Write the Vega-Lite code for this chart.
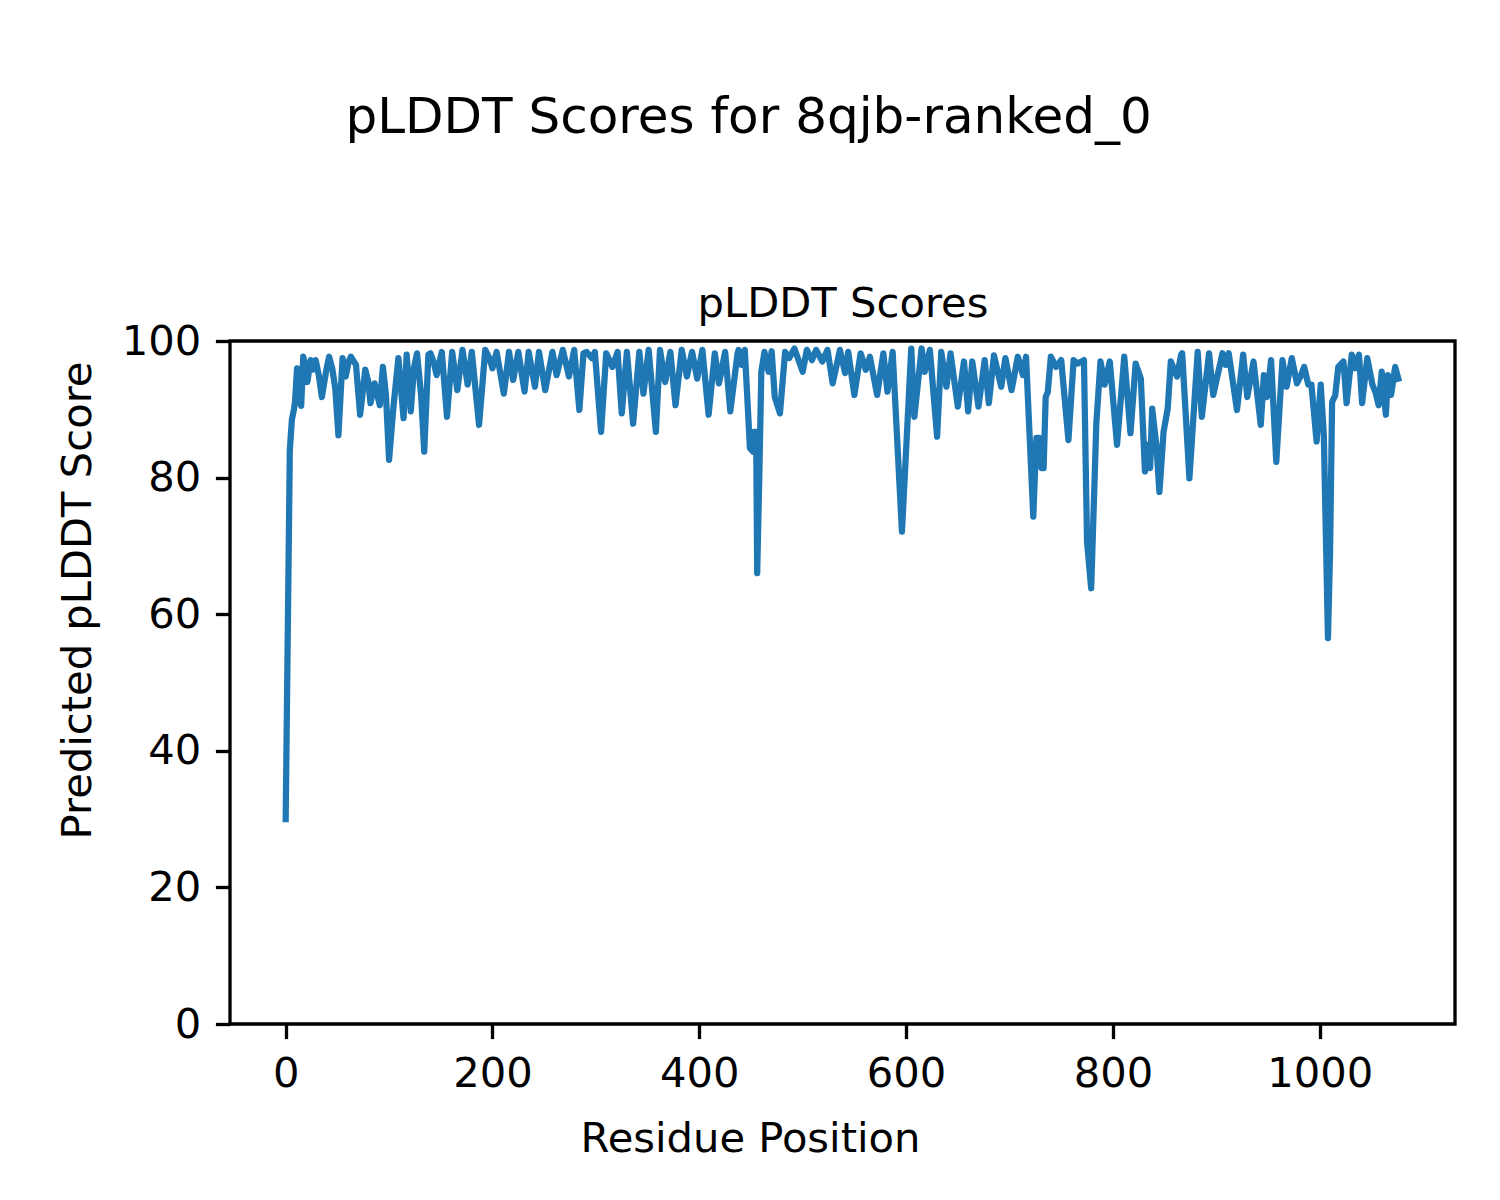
{
  "$schema": "https://vega.github.io/schema/vega-lite/v6.json",
  "autosize": {"type": "none"},
  "padding": {"left": 230, "top": 341, "right": 45, "bottom": 176},
  "background": "white",
  "width": 1225,
  "height": 683,
  "title": {"text": "pLDDT Scores for 8qjb-ranked_0", "anchor": "start", "frame": "group", "align": "left", "dx": 115.5, "fontSize": 50, "font": "DejaVu Sans", "fontWeight": "normal", "color": "black", "baseline": "alphabetic", "offset": 100},
  "config": {
    "font": "DejaVu Sans",
    "view": {"stroke": "black", "strokeWidth": 3.33},
    "axis": {"grid": false, "domain": false, "tickColor": "black", "tickWidth": 3.33, "tickSize": 14.6, "labelPadding": 14.6, "labelFontSize": 41.67, "labelColor": "black", "labelFont": "DejaVu Sans", "titleFontSize": 41.67, "titleFontWeight": "normal", "titleColor": "black", "titleFont": "DejaVu Sans"}
  },
  "data": {"values": [
    {"r":0,"v":30},{"r":4,"v":84},{"r":6,"v":88.5},{"r":8,"v":90},{"r":9,"v":91},{"r":11,"v":96},{"r":13,"v":92},{"r":15,"v":90.5},{"r":17,"v":97.7},{"r":19,"v":96},{"r":21,"v":94},{"r":24,"v":97.2},{"r":26,"v":95.8},{"r":29,"v":97.2},{"r":32,"v":95},{"r":35,"v":91.8},{"r":39,"v":95.5},{"r":42,"v":97.7},{"r":45,"v":96},{"r":48,"v":93},{"r":51,"v":86.2},{"r":55,"v":97.5},{"r":58,"v":94.8},{"r":61,"v":97},{"r":63,"v":97.7},{"r":68,"v":96.5},{"r":72,"v":89.2},{"r":77,"v":95.8},{"r":80,"v":94},{"r":82,"v":90.9},{"r":86,"v":93.8},{"r":91,"v":90.6},{"r":94,"v":96.2},{"r":97,"v":92},{"r":100,"v":82.6},{"r":104,"v":90},{"r":109,"v":97.5},{"r":114,"v":88.7},{"r":117,"v":98},{"r":121,"v":89.7},{"r":124,"v":96},{"r":127,"v":98.2},{"r":131,"v":92},{"r":134,"v":83.8},{"r":138,"v":98},{"r":140,"v":98.2},{"r":143,"v":97},{"r":146,"v":95},{"r":151,"v":98.4},{"r":156,"v":88.9},{"r":161,"v":98.4},{"r":166,"v":92.8},{"r":171,"v":98.7},{"r":176,"v":93.6},{"r":180,"v":98.4},{"r":187,"v":87.7},{"r":193,"v":98.7},{"r":197,"v":97.5},{"r":200,"v":96},{"r":204,"v":98.4},{"r":211,"v":92.3},{"r":216,"v":98.4},{"r":220,"v":94.3},{"r":225,"v":98.4},{"r":231,"v":92.6},{"r":235,"v":98.4},{"r":241,"v":93.3},{"r":245,"v":98.4},{"r":251,"v":92.8},{"r":258,"v":98.4},{"r":262,"v":95},{"r":268,"v":98.7},{"r":274,"v":94.8},{"r":279,"v":98.7},{"r":284,"v":89.9},{"r":288,"v":98.2},{"r":291,"v":98.4},{"r":296,"v":97.5},{"r":299,"v":98.4},{"r":305,"v":86.7},{"r":310,"v":98.2},{"r":316,"v":96.2},{"r":321,"v":98.4},{"r":325,"v":89.4},{"r":330,"v":98.4},{"r":336,"v":87.9},{"r":342,"v":98.4},{"r":346,"v":92.3},{"r":351,"v":98.7},{"r":358,"v":86.7},{"r":362,"v":98.7},{"r":367,"v":94},{"r":372,"v":98.4},{"r":377,"v":90.6},{"r":383,"v":98.7},{"r":388,"v":94.8},{"r":393,"v":98.4},{"r":398,"v":94.5},{"r":403,"v":98.7},{"r":409,"v":89.2},{"r":415,"v":98.2},{"r":419,"v":93.8},{"r":425,"v":98.4},{"r":430,"v":89.7},{"r":437,"v":98.2},{"r":438,"v":98.7},{"r":441,"v":96.5},{"r":444,"v":98.7},{"r":449,"v":84.3},{"r":452,"v":83.8},{"r":453,"v":86.7},{"r":455,"v":86.7},{"r":456,"v":66},{"r":458,"v":80},{"r":460,"v":95.5},{"r":463,"v":98.4},{"r":467,"v":95.5},{"r":470,"v":98.5},{"r":473,"v":91.8},{"r":478,"v":89.4},{"r":483,"v":98.4},{"r":487,"v":97.5},{"r":492,"v":98.9},{"r":500,"v":95.5},{"r":504,"v":98.7},{"r":509,"v":97.2},{"r":513,"v":98.7},{"r":519,"v":97},{"r":524,"v":98.7},{"r":529,"v":93.8},{"r":536,"v":98.7},{"r":541,"v":95.3},{"r":544,"v":98.4},{"r":550,"v":92.1},{"r":556,"v":98.2},{"r":561,"v":95.8},{"r":565,"v":97.7},{"r":572,"v":92.1},{"r":578,"v":98.2},{"r":582,"v":92.6},{"r":587,"v":98.4},{"r":596,"v":72.1},{"r":605,"v":98.9},{"r":608,"v":88.9},{"r":615,"v":98.9},{"r":618,"v":95.5},{"r":623,"v":98.7},{"r":630,"v":86},{"r":634,"v":98.4},{"r":639,"v":93.3},{"r":643,"v":98.2},{"r":650,"v":90.4},{"r":656,"v":97},{"r":660,"v":89.7},{"r":664,"v":97},{"r":670,"v":90.4},{"r":676,"v":97.2},{"r":680,"v":90.9},{"r":685,"v":97.9},{"r":692,"v":93.3},{"r":696,"v":97.5},{"r":702,"v":92.8},{"r":708,"v":97.7},{"r":713,"v":95},{"r":716,"v":97.7},{"r":723,"v":74.3},{"r":726,"v":85.8},{"r":729,"v":85.8},{"r":731,"v":81.4},{"r":733,"v":81.4},{"r":735,"v":91.8},{"r":737,"v":92.5},{"r":740,"v":97.7},{"r":745,"v":96.2},{"r":750,"v":97.2},{"r":757,"v":85.5},{"r":762,"v":97.2},{"r":766,"v":96.7},{"r":772,"v":97.2},{"r":775,"v":70.6},{"r":779,"v":63.8},{"r":784,"v":88},{"r":788,"v":97},{"r":792,"v":93.6},{"r":797,"v":97},{"r":804,"v":84.8},{"r":811,"v":97.7},{"r":817,"v":86.5},{"r":822,"v":96.7},{"r":827,"v":94.5},{"r":831,"v":80.9},{"r":833,"v":84.8},{"r":836,"v":81.4},{"r":838,"v":90.1},{"r":842,"v":84.8},{"r":845,"v":77.9},{"r":849,"v":86.7},{"r":853,"v":90.1},{"r":856,"v":97},{"r":862,"v":94.8},{"r":866,"v":98},{"r":867,"v":98.2},{"r":874,"v":79.9},{"r":882,"v":98.4},{"r":886,"v":88.9},{"r":893,"v":98.2},{"r":897,"v":92.1},{"r":906,"v":98.2},{"r":909,"v":96.5},{"r":912,"v":98.2},{"r":920,"v":89.9},{"r":926,"v":98},{"r":930,"v":91.8},{"r":936,"v":97},{"r":943,"v":87.7},{"r":946,"v":95},{"r":949,"v":91.8},{"r":953,"v":97.2},{"r":958,"v":82.3},{"r":964,"v":97.2},{"r":968,"v":93.3},{"r":973,"v":97.5},{"r":978,"v":93.8},{"r":982,"v":95},{"r":985,"v":96.2},{"r":989,"v":93.6},{"r":992,"v":93.6},{"r":997,"v":85.3},{"r":1001,"v":93.6},{"r":1004,"v":86.2},{"r":1008,"v":56.5},{"r":1010,"v":69},{"r":1012,"v":91.1},{"r":1015,"v":92},{"r":1018,"v":96.2},{"r":1023,"v":97},{"r":1026,"v":90.9},{"r":1031,"v":98},{"r":1034,"v":96},{"r":1038,"v":98},{"r":1041,"v":90.9},{"r":1046,"v":97.5},{"r":1051,"v":93.6},{"r":1054,"v":92.5},{"r":1057,"v":90.6},{"r":1060,"v":95.5},{"r":1064,"v":89.2},{"r":1066,"v":95},{"r":1069,"v":92.1},{"r":1073,"v":96.2},{"r":1076,"v":94.5}
  ]},
  "resolve": {"axis": {"x": "independent"}},
  "layer": [
    {
      "mark": {"type": "line", "color": "#1f77b4", "strokeWidth": 6.25, "strokeJoin": "round", "strokeCap": "square"},
      "encoding": {
        "x": {"field": "r", "type": "quantitative", "scale": {"domain": [-53.85, 1130.85], "nice": false, "zero": false},
              "axis": {"orient": "bottom", "title": "Residue Position", "format": "d", "values": [0, 200, 400, 600, 800, 1000], "titleX": 520, "titleY": 127.7, "titleBaseline": "alphabetic", "titleAlign": "center"}},
        "y": {"field": "v", "type": "quantitative", "scale": {"domain": [0, 100], "nice": false},
              "axis": {"title": "Predicted pLDDT Score", "format": "d", "values": [0, 20, 40, 60, 80, 100], "titleX": -140, "titleY": 259, "titleAngle": -90, "titleBaseline": "alphabetic", "titleAlign": "center"}}
      }
    },
    {
      "mark": {"type": "line", "color": "#1f77b4", "strokeWidth": 6.25, "opacity": 0},
      "encoding": {
        "x": {"field": "r", "type": "quantitative",
              "axis": {"orient": "top", "title": "pLDDT Scores", "labels": false, "ticks": false, "domain": false, "titleX": 612.5, "titleY": -25, "titleBaseline": "alphabetic", "titleAlign": "center"}},
        "y": {"field": "v", "type": "quantitative"}
      }
    }
  ]
}
